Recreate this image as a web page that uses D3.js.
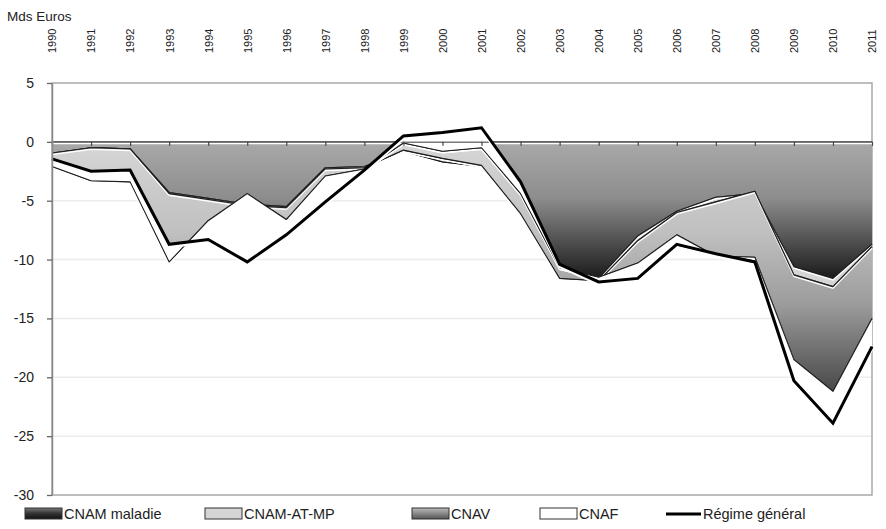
<!DOCTYPE html>
<html>
<head>
<meta charset="utf-8">
<script src="https://cdn.jsdelivr.net/npm/d3@7/dist/d3.min.js"></script>
<style>
body{margin:0;background:#fff;}
svg text{font-family:"Liberation Sans",Arial,sans-serif;fill:#222;}
</style>
</head>
<body>
<svg id="chart" width="886" height="529"></svg>
<script>
// Soldes des branches du régime général, Mds euros
const years = [1990,1991,1992,1993,1994,1995,1996,1997,1998,1999,2000,2001,2002,2003,2004,2005,2006,2007,2008,2009,2010,2011];
const cnamMaladie = [-1.0,-0.5,-0.6,-4.3,-4.8,-5.3,-5.5,-2.2,-2.1,-0.8,-1.7,-2.1,-6.1,-11.1,-11.6,-8.0,-5.9,-4.7,-4.4,-10.6,-11.6,-8.7];
const cnamAtMp    = [0.05,0.0,0.0,-0.1,-0.1,-0.1,-0.1,-0.1,-0.1,0.1,0.3,0.1,0.0,-0.5,-0.2,-0.4,-0.1,-0.4,0.2,-0.7,-0.7,-0.2];
const cnav        = [-1.15,-2.8,-2.8,-5.8,-1.8,1.0,-1.0,-0.6,-0.1,0.6,0.6,1.5,1.7,0.9,0.3,-1.9,-1.9,-4.6,-5.6,-7.2,-8.9,-6.1];
const cnaf        = [0.65,0.8,1.0,1.5,-1.6,-5.8,-1.3,-2.2,-0.1,0.6,1.6,1.7,1.0,0.4,-0.4,-1.3,-0.9,0.2,-0.3,-1.8,-2.7,-2.4];
const regimeGeneral = [-1.45,-2.5,-2.4,-8.7,-8.3,-10.2,-7.9,-5.1,-2.4,0.5,0.8,1.2,-3.4,-10.4,-11.9,-11.6,-8.7,-9.5,-10.2,-20.3,-23.9,-17.4];
const yTicks = [5,0,-5,-10,-15,-20,-25,-30];
const seriesKeys = ["CNAM maladie","CNAM-AT-MP","CNAV","CNAF"];

const svg = d3.select("#chart");
const pLeft = 52, pRight = 872, pTop = 83, pBottom = 495;

const x = d3.scaleLinear().domain([1990,2011]).range([pLeft,pRight]);
const y = d3.scaleLinear().domain([-30,5]).range([pBottom,pTop]);

// gradients
const defs = svg.append("defs");
function grad(id, stops, y1, y2, user){
  const g = defs.append("linearGradient").attr("id",id)
    .attr("x1",0).attr("x2",0);
  if(user){ g.attr("gradientUnits","userSpaceOnUse").attr("y1",y1).attr("y2",y2); }
  else { g.attr("y1",0).attr("y2",1); }
  stops.forEach(s => g.append("stop").attr("offset",s[0]).attr("stop-color",s[1]));
}
const malStops = [[0,"#a9a9a9"],[0.4,"#8d8d8d"],[0.72,"#4e4e4e"],[1,"#151515"]];
const cnavStops = [[0,"#d6d6d6"],[0.35,"#c1c1c1"],[0.65,"#9b9b9b"],[1,"#474747"]];
grad("gMal", malStops, y(0), y(-11.9), true);
grad("gCnav", cnavStops, y(0), y(-21.3), true);
grad("gMalLeg", [[0,"#777"],[0.5,"#333"],[1,"#111"]], 0, 1, false);
grad("gCnavLeg", [[0,"#bbb"],[0.5,"#888"],[1,"#555"]], 0, 1, false);
const fills = ["url(#gMal)","#d5d5d5","url(#gCnav)","#ffffff"];

// gridlines
svg.append("g").selectAll("line").data(yTicks.filter(d => d !== 0 && d !== 5 && d !== -30)).join("line")
  .attr("x1",pLeft).attr("x2",pRight).attr("y1",d=>y(d)).attr("y2",d=>y(d))
  .attr("stroke","#ececec").attr("stroke-width",1.5);

// frame
svg.append("rect").attr("x",pLeft).attr("y",pTop).attr("width",pRight-pLeft).attr("height",pBottom-pTop)
  .attr("fill","none").attr("stroke","#a8a8a8").attr("stroke-width",1.5);

// stacked areas (Excel-like cumulative stacking)
const rows = years.map((yr,i) => ({year:yr, "CNAM maladie":cnamMaladie[i], "CNAM-AT-MP":cnamAtMp[i], "CNAV":cnav[i], "CNAF":cnaf[i]}));
const stacked = d3.stack().keys(seriesKeys).offset(d3.stackOffsetNone)(rows);

const area = d3.area().x(d => x(d.data.year)).y0(d => y(d[0])).y1(d => y(d[1]));
const lineTop = d3.line().x(d => x(d.data.year)).y(d => y(d[1]));
const lineBot = d3.line().x(d => x(d.data.year)).y(d => y(d[0]));

const gAreas = svg.append("g");
stacked.forEach((s,i) => {
  gAreas.append("path").datum(s).attr("d",area).attr("fill",fills[i]);
  [lineBot,lineTop].forEach(fn => {
    gAreas.append("path").datum(s).attr("d",fn).attr("fill","none")
      .attr("stroke","#fff").attr("stroke-width",1.4).attr("transform","translate(0,1.6)");
    gAreas.append("path").datum(s).attr("d",fn).attr("fill","none")
      .attr("stroke","#1e1e1e").attr("stroke-width",1.1).attr("stroke-linejoin","round");
  });
});

// x axis on the zero line (ticks only)
svg.append("g").attr("transform",`translate(0,${y(0)})`)
  .call(d3.axisBottom(x).tickValues(years).tickSize(4).tickSizeOuter(0).tickFormat(""))
  .call(g => g.select(".domain").attr("stroke","#7a7a7a").attr("stroke-width",1.5))
  .call(g => g.selectAll(".tick line").attr("stroke","#444").attr("stroke-width",1.2));

// Régime général line
const rgLine = d3.line().x((d,i) => x(years[i])).y(d => y(d));
svg.append("path").datum(regimeGeneral).attr("d",rgLine).attr("fill","none")
  .attr("stroke","#fff").attr("stroke-width",2.5).attr("transform","translate(0,2.6)");
svg.append("path").datum(regimeGeneral).attr("d",rgLine).attr("fill","none")
  .attr("stroke","#000").attr("stroke-width",3).attr("stroke-linejoin","miter");

// y axis
svg.append("g").attr("transform",`translate(${pLeft},0)`)
  .call(d3.axisLeft(y).tickValues(yTicks).tickSize(5).tickSizeOuter(0).tickPadding(13).tickFormat(d => String(d)))
  .call(g => g.select(".domain").attr("stroke","#8a8a8a").attr("stroke-width",1.5))
  .call(g => g.selectAll(".tick line").attr("stroke","#666").attr("stroke-width",1.3))
  .call(g => g.selectAll("text").attr("font-size",14).attr("fill","#222"));

// year labels on top
svg.append("g").attr("transform","translate(0,53)")
  .call(d3.axisTop(x).tickValues(years).tickSize(0).tickFormat(d3.format("d")))
  .call(g => g.select(".domain").remove())
  .call(g => g.selectAll("text").attr("transform","rotate(-90)")
    .attr("x",0).attr("y",0).attr("dy","0.35em").attr("text-anchor","start")
    .attr("font-size",11).attr("fill","#222"));

// unit
svg.append("text").attr("x",7).attr("y",21).attr("font-size",13.5).text("Mds Euros");

// legend
const legendX = [25,205,412,540,666];
const legendFills = ["url(#gMalLeg)","#d5d5d5","url(#gCnavLeg)","#ffffff"];
const legendNames = seriesKeys.concat(["Régime général"]);
const leg = svg.append("g");
legendNames.forEach((name,i) => {
  const lx = legendX[i];
  if(i < 4){
    leg.append("rect").attr("x",lx).attr("y",508).attr("width",37).attr("height",11)
      .attr("fill",legendFills[i]).attr("stroke","#333").attr("stroke-width",1);
    leg.append("text").attr("x",lx+39).attr("y",519).attr("font-size",14.5).text(name);
  } else {
    leg.append("line").attr("x1",lx).attr("x2",lx+35).attr("y1",514).attr("y2",514)
      .attr("stroke","#000").attr("stroke-width",3);
    leg.append("text").attr("x",lx+37).attr("y",519).attr("font-size",14.5).text(name);
  }
});
</script>
</body>
</html>
